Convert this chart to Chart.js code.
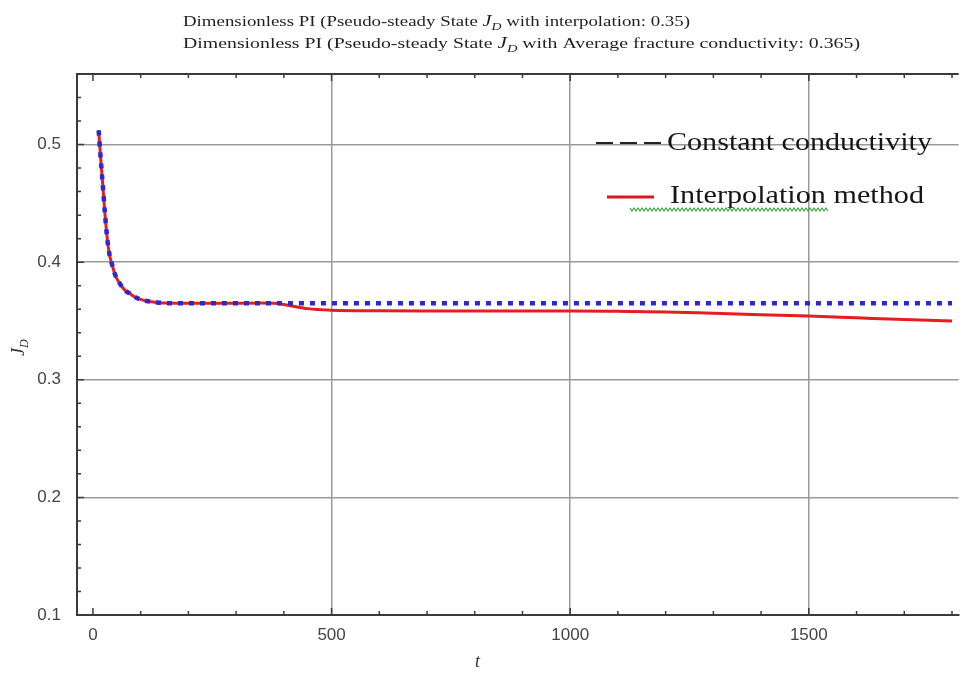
<!DOCTYPE html>
<html>
<head>
<meta charset="utf-8">
<script src="https://cdn.jsdelivr.net/npm/chart.js@4.4.1/dist/chart.umd.min.js"></script>
<style>
  body { margin: 0; background: #fff; }
  canvas { display: block; }
</style>
</head>
<body>
<canvas id="jdChart" width="962" height="679"></canvas>
<script>
// time samples (t) and dimensionless productivity index J_D for both runs
const tValues = [12, 15, 18, 22, 25, 28, 32, 36, 40, 45, 50, 56, 63, 70, 77, 85, 95, 112, 130, 150,
  200, 250, 300, 350, 380, 400, 420, 450, 500, 600, 700, 800, 900, 1000, 1100, 1200, 1300, 1400,
  1500, 1600, 1700, 1800];
const interpValues = [0.512, 0.495, 0.479, 0.458, 0.442, 0.428, 0.413, 0.404, 0.398, 0.391, 0.386,
  0.382, 0.378, 0.375, 0.3735, 0.371, 0.369, 0.367, 0.366, 0.3652,
  0.365, 0.365, 0.365, 0.3652, 0.365, 0.364, 0.3625, 0.3605, 0.3592, 0.3587, 0.3585, 0.3585, 0.3585,
  0.3585, 0.3582, 0.3577, 0.3565, 0.3553, 0.3542, 0.3527, 0.3512, 0.35];
const constValues = [0.512, 0.495, 0.479, 0.458, 0.442, 0.428, 0.413, 0.404, 0.398, 0.391, 0.386,
  0.382, 0.378, 0.375, 0.3735, 0.371, 0.369, 0.367, 0.366, 0.3652,
  0.365, 0.365, 0.365, 0.365, 0.365, 0.365, 0.365, 0.365, 0.365, 0.365, 0.365, 0.365, 0.365,
  0.365, 0.365, 0.365, 0.365, 0.365, 0.365, 0.365, 0.365, 0.365];

const seriesNames = ['Constant conductivity', 'Interpolation method'];
const titleLines = [
  ['Dimensionless PI (Pseudo-steady State ', ' with interpolation: 0.35)'],
  ['Dimensionless PI (Pseudo-steady State ', ' with Average fracture conductivity: 0.365)']
];

const toPoints = vals => tValues.map((t, i) => ({ x: t, y: vals[i] }));
const isTenth = v => Math.abs(v * 10 - Math.round(v * 10)) < 1e-6;

// draws a list of text runs on one baseline, squeezed to a given width
function drawRuns(ctx, runs, x, y, width) {
  let natural = 0;
  runs.forEach(r => { ctx.font = r.font; natural += ctx.measureText(r.text).width; });
  const sx = width ? width / natural : 1;
  ctx.save();
  ctx.translate(x, y);
  ctx.scale(sx, 1);
  let cx = 0;
  runs.forEach(r => {
    ctx.font = r.font;
    ctx.fillText(r.text, cx, r.dy || 0);
    cx += ctx.measureText(r.text).width;
  });
  ctx.restore();
  return natural * sx;
}

const serif = '"Liberation Serif", "Times New Roman", serif';
const sans = '"Liberation Sans", Arial, sans-serif';

// inward ticks on the frame, plus the top frame line
const frameTicks = {
  id: 'frameTicks',
  afterDraw(chart) {
    const { ctx, chartArea: a, scales: { x, y } } = chart;
    ctx.save();
    ctx.strokeStyle = '#3a3a3a';
    ctx.lineWidth = 2;
    ctx.beginPath();
    ctx.moveTo(a.left - 1, a.top);
    ctx.lineTo(a.right, a.top);
    ctx.stroke();
    ctx.lineWidth = 1.5;
    ctx.beginPath();
    x.ticks.forEach(t => {
      const px = x.getPixelForValue(t.value);
      const len = t.value % 500 === 0 ? 7 : 4;
      ctx.moveTo(px, a.bottom);
      ctx.lineTo(px, a.bottom - len);
      ctx.moveTo(px, a.top);
      ctx.lineTo(px, a.top + len);
    });
    y.ticks.forEach(t => {
      const py = y.getPixelForValue(t.value);
      const len = isTenth(t.value) ? 7 : 4;
      ctx.moveTo(a.left, py);
      ctx.lineTo(a.left + len, py);
    });
    ctx.stroke();
    ctx.restore();
  }
};

// plot title, axis labels and the legend block
const annotations = {
  id: 'annotations',
  afterDraw(chart) {
    const { ctx } = chart;
    ctx.save();
    ctx.fillStyle = '#1f1f1f';
    ctx.textBaseline = 'alphabetic';
    const widths = [507, 677];
    titleLines.forEach((parts, i) => {
      drawRuns(ctx, [
        { text: parts[0], font: '15px ' + serif },
        { text: 'J', font: 'italic 16px ' + serif },
        { text: 'D', font: 'italic 11px ' + serif, dy: 4 },
        { text: parts[1], font: '15px ' + serif }
      ], 183, 26 + i * 22, widths[i]);
    });

    // axis labels
    ctx.fillStyle = '#333';
    ctx.save();
    ctx.translate(24, 356);
    ctx.rotate(-Math.PI / 2);
    drawRuns(ctx, [
      { text: 'J', font: 'italic 18px ' + serif },
      { text: 'D', font: 'italic 12px ' + serif, dy: 4 }
    ], 0, 0);
    ctx.restore();
    drawRuns(ctx, [{ text: 't', font: 'italic 18px ' + serif }], 475, 667);

    // legend
    ctx.strokeStyle = '#222';
    ctx.lineWidth = 2;
    ctx.setLineDash([17, 7]);
    ctx.beginPath();
    ctx.moveTo(596, 143);
    ctx.lineTo(661, 143);
    ctx.stroke();
    ctx.setLineDash([]);
    ctx.strokeStyle = 'rgb(215, 25, 30)';
    ctx.lineWidth = 3;
    ctx.beginPath();
    ctx.moveTo(607, 197);
    ctx.lineTo(654, 197);
    ctx.stroke();

    ctx.fillStyle = '#151515';
    drawRuns(ctx, [{ text: seriesNames[0], font: '25px ' + serif }], 667, 150, 265);
    drawRuns(ctx, [{ text: seriesNames[1], font: '25px ' + serif }], 670, 203, 254);

    // spell-check squiggle under the second entry
    ctx.strokeStyle = 'rgb(60, 165, 60)';
    ctx.lineWidth = 1.2;
    ctx.beginPath();
    for (let px = 630, k = 0; px <= 829; px += 2, k++) {
      const py = 209.5 + (k % 2 ? 1.5 : -1.5);
      if (px === 630) ctx.moveTo(px, py); else ctx.lineTo(px, py);
    }
    ctx.stroke();
    ctx.restore();
  }
};

const ctx = document.getElementById('jdChart').getContext('2d');

new Chart(ctx, {
  type: 'line',
  data: {
    datasets: [
      {
        label: seriesNames[0],
        data: toPoints(constValues),
        borderColor: 'rgb(40, 40, 215)',
        borderWidth: 4.5,
        borderDash: [5, 6],
        pointRadius: 0,
        cubicInterpolationMode: 'monotone',
        fill: false
      },
      {
        label: seriesNames[1],
        data: toPoints(interpValues),
        borderColor: 'rgb(228, 30, 30)',
        borderWidth: 3,
        pointRadius: 0,
        cubicInterpolationMode: 'monotone',
        fill: false
      }
    ]
  },
  options: {
    responsive: false,
    animation: false,
    layout: { padding: { top: 74, right: 0, left: 0, bottom: 0 } },
    plugins: {
      legend: { display: false },
      title: { display: false },
      tooltip: { enabled: false }
    },
    scales: {
      x: {
        type: 'linear',
        min: -33.4,
        max: 1814,
        afterFit: s => { s.height = 64; },
        border: { display: true, color: '#3a3a3a', width: 2 },
        grid: {
          drawTicks: false,
          lineWidth: 1.5,
          color: c => (c.tick && c.tick.value % 500 === 0 && c.tick.value !== 0) ? '#9a9a9a' : 'rgba(0,0,0,0)'
        },
        ticks: {
          stepSize: 100,
          includeBounds: false,
          autoSkip: false,
          maxRotation: 0,
          padding: 10,
          color: '#444',
          font: { family: sans, size: 17 },
          callback: v => v % 500 === 0 ? String(v) : ''
        }
      },
      y: {
        min: 0.1,
        max: 0.56,
        afterFit: s => { s.width = 77; },
        border: { display: true, color: '#3a3a3a', width: 2 },
        grid: {
          drawTicks: false,
          lineWidth: 1.5,
          color: c => (c.tick && isTenth(c.tick.value) && c.tick.value > 0.15) ? '#9a9a9a' : 'rgba(0,0,0,0)'
        },
        ticks: {
          stepSize: 0.02,
          includeBounds: false,
          autoSkip: false,
          padding: 16,
          color: '#444',
          font: { family: sans, size: 17 },
          callback: v => isTenth(v) ? v.toFixed(1) : ''
        }
      }
    }
  },
  plugins: [frameTicks, annotations]
});
</script>
</body>
</html>
